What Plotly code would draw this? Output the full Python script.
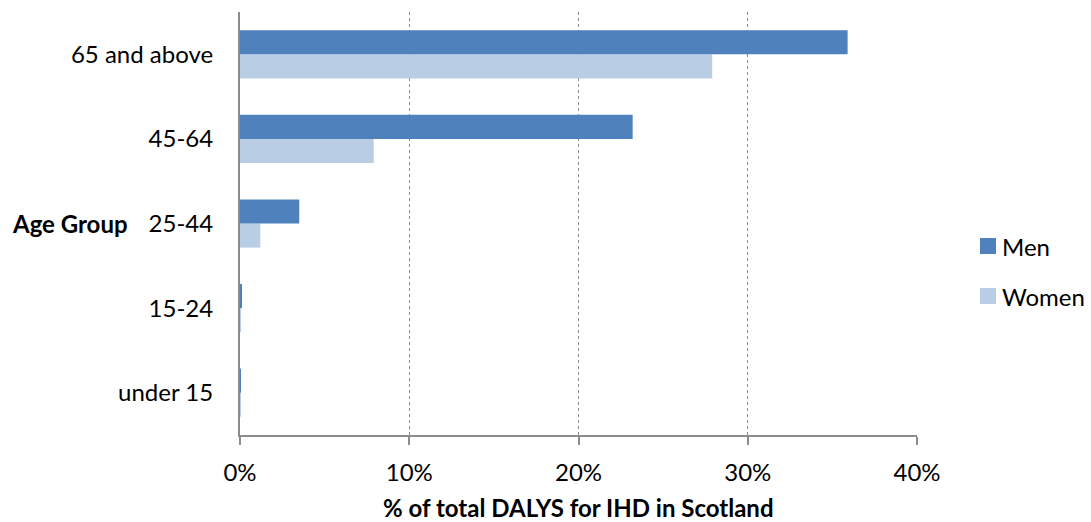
import plotly.graph_objects as go

# Age groups, listed bottom to top
age_groups = ["under 15", "15-24", "25-44", "45-64", "65 and above"]
men_pct = [0.05, 0.1, 3.5, 23.2, 35.9]
women_pct = [0.02, 0.05, 1.2, 7.9, 27.9]
x_ticks = [0, 10, 20, 30, 40]
x_tick_text = ["0%", "10%", "20%", "30%", "40%"]

series_names = ["Men", "Women"]
series_colors = ["#4F81BD", "#B9CDE5"]

FONT = "Lato, Calibri, Carlito, sans-serif"

# Layout geometry (pixels)
W, H = 1091, 522
M_L, M_R, M_T, M_B = 240, 0, 12, 87
PLOT_RIGHT = 917
PAPER_W = W - M_L - M_R
PAPER_H = H - M_T - M_B


def px_x(x):
    return (x - M_L) / PAPER_W


def px_y(y):
    return (H - M_B - y) / PAPER_H


fig = go.Figure()
fig.add_trace(go.Bar(
    y=age_groups, x=women_pct, orientation="h", name=series_names[1],
    marker=dict(color=series_colors[1], line=dict(width=0)),
))
fig.add_trace(go.Bar(
    y=age_groups, x=men_pct, orientation="h", name=series_names[0],
    marker=dict(color=series_colors[0], line=dict(width=0)),
))

# Legend drawn as swatches + labels on the right
shapes = []
annotations = []
for i, (name, color) in enumerate(zip(series_names, series_colors)):
    cy = 246 + 50 * i
    shapes.append(dict(
        type="rect", xref="paper", yref="paper",
        x0=px_x(980), x1=px_x(996), y0=px_y(cy + 8), y1=px_y(cy - 8),
        fillcolor=color, line=dict(width=0),
    ))
    annotations.append(dict(
        text=name, xref="paper", yref="paper",
        x=px_x(1000), y=px_y(cy), xanchor="left", yanchor="middle",
        showarrow=False, font=dict(size=24),
    ))

annotations.append(dict(
    text="<b>Age Group</b>", xref="paper", yref="paper",
    x=px_x(10), y=0.5, xanchor="left", yanchor="middle",
    showarrow=False, font=dict(size=24),
))
annotations.append(dict(
    text="<b>% of total DALYS for IHD in Scotland</b>",
    xref="paper", yref="paper",
    x=px_x((240 + PLOT_RIGHT) / 2), y=px_y(508),
    xanchor="center", yanchor="middle",
    showarrow=False, font=dict(size=24),
))

fig.update_layout(
    width=W, height=H,
    margin=dict(l=M_L, r=M_R, t=M_T, b=M_B, autoexpand=False),
    paper_bgcolor="white", plot_bgcolor="white",
    barmode="group", bargap=0.43, bargroupgap=0,
    font=dict(family=FONT, size=24, color="#000000"),
    showlegend=False,
    xaxis=dict(
        domain=[0, px_x(PLOT_RIGHT)],
        range=[0, 40], tickvals=x_ticks, ticktext=x_tick_text,
        showgrid=True, gridcolor="#8c8c8c", griddash="dot", gridwidth=1,
        showline=True, linecolor="#8c8c8c", linewidth=2,
        ticks="outside", ticklen=8, tickcolor="#8c8c8c", tickwidth=2,
        ticklabelstandoff=7, automargin=False,
        zeroline=False,
        fixedrange=True,
    ),
    yaxis=dict(
        showline=True, linecolor="#8c8c8c", linewidth=2,
        ticks="", showgrid=False, zeroline=False, automargin=False,
        ticklabelstandoff=20, fixedrange=True,
    ),
    shapes=shapes,
    annotations=annotations,
)

fig.write_html("out.html")
